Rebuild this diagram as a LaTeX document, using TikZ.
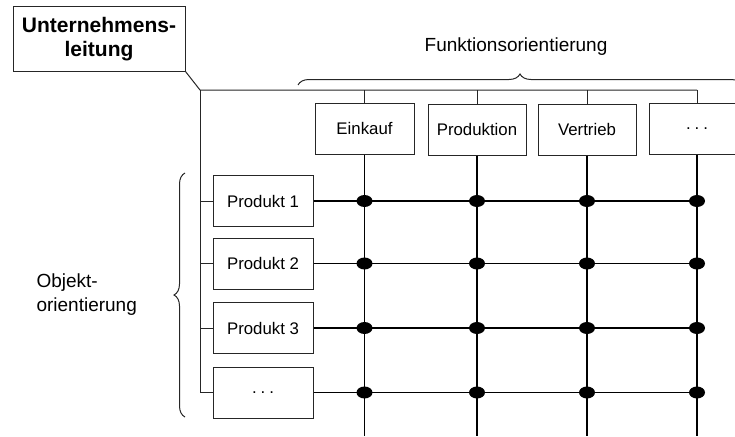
\documentclass[tikz,border=0pt]{standalone}
\usepackage{fontspec}
\setmainfont{Liberation Sans}
\usepackage{tikz}
\usetikzlibrary{shapes.geometric}
\usetikzlibrary{decorations.pathreplacing}
\tikzset{
	box/.style={draw=black!85, line width=1pt, inner sep=0pt, minimum height=51pt, font=\fontsize{16.8}{20}\selectfont},
	dot/.style={ellipse, fill=black, inner sep=0pt, minimum width=16pt, minimum height=12pt},
	gridline/.style={line width=1.6pt},
	thinline/.style={line width=1pt, black!85},
	label/.style={font=\fontsize{19}{24}\selectfont},
}
\def\dotsbox{.\hspace{4pt}.\hspace{4pt}.}

\begin{document}
\begin{tikzpicture}[x=1pt, y=-1pt]
		\useasboundingbox (0,0) rectangle (735,436);
		
		\node[box, minimum width=172pt, minimum height=64pt, align=center, font=\bfseries\fontsize{21}{23.5}\selectfont] (leitung) at (99,39) {Unternehmens-\\leitung};
		
		\node[box, minimum width=99pt] (f1) at (364.5,128.5) {Einkauf};
		\node[box, minimum width=98pt] (f2) at (477,129.5) {Produktion};
		\node[box, minimum width=98pt] (f3) at (587,129.5) {Vertrieb};
		\node[box, minimum width=96pt] (f4) at (697,129) {\dotsbox};
		
		\node[box, minimum width=100pt] (p1) at (263,201) {Produkt 1};
		\node[box, minimum width=100pt] (p2) at (263,263.5) {Produkt 2};
		\node[box, minimum width=100pt] (p3) at (263,328) {Produkt 3};
		\node[box, minimum width=100pt] (p4) at (263,392.5) {\dotsbox};
		
		\node[label] (funktion) at (516,47) {Funktionsorientierung};
		\node[label, align=left, anchor=west] (objekt) at (33,295) {Objekt-\\orientierung};
		
		\coordinate (trunk) at (200,90);
		\coordinate (bottom) at (0,436);
		
		% Leitung zu den Funktionen und Objekten
		\draw[thinline] (leitung.south east) -- (trunk) -- (f4.north |- trunk);
		\draw[thinline] (trunk) -- (trunk |- p4.west) -- (p4.west);
		\foreach \c in {1,...,4}
			\draw[thinline] (f\c.north |- trunk) -- (f\c.north);
		\foreach \r in {1,2,3}
			\draw[thinline] (trunk |- p\r.west) -- (p\r.west);
		
		% Matrix
		\foreach \c in {1,...,4}
			\draw[gridline] (f\c.south) -- (f\c.south |- bottom);
		\foreach \r in {1,...,4} {
			\foreach \c in {1,...,4}
				\node[dot] (d\r\c) at (p\r.east -| f\c.south) {};
			\draw[gridline] (p\r.east) -- (d\r4.center);
		}
		
		\draw[thinline, decorate, decoration={brace, amplitude=11pt}] (298,85) -- (742,85);
		\draw[thinline, decorate, decoration={brace, amplitude=11pt}] (185,417) -- (185,173);
	\end{tikzpicture}
\end{document}
